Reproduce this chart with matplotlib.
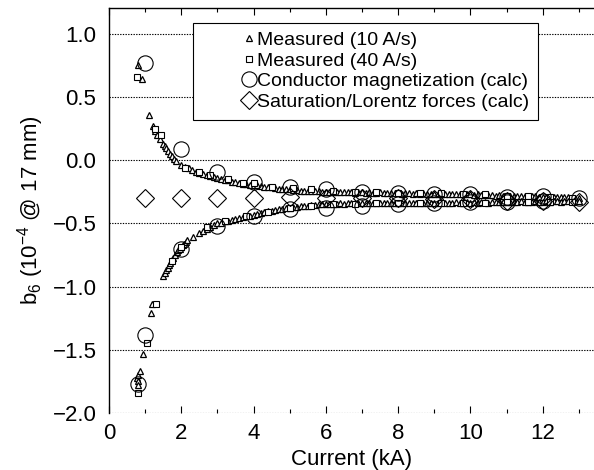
import matplotlib
matplotlib.use("Agg")
import matplotlib.pyplot as plt
from matplotlib.ticker import MultipleLocator

plt.rcParams["font.family"] = ["Liberation Sans", "DejaVu Sans"]
plt.rcParams["mathtext.default"] = "regular"

# Measured, 10 A/s ramp (triangles): upper branch
up10_x = [0.80, 0.91, 1.10, 1.22, 1.27, 1.33, 1.41, 1.50, 1.54, 1.58, 1.63, 1.69, 1.74, 1.80, 1.85,
          2.0, 2.1, 2.2, 2.3, 2.4, 2.5, 2.6, 2.7, 2.8, 2.9,
          3.0, 3.1, 3.2, 3.3, 3.4, 3.5, 3.6, 3.7, 3.8, 3.9,
          4.0, 4.1, 4.2, 4.3, 4.4, 4.5, 4.6, 4.7, 4.8, 4.9,
          5.0, 5.1, 5.2, 5.3, 5.4, 5.5, 5.6, 5.7, 5.8, 5.9,
          6.0, 6.1, 6.2, 6.3, 6.4, 6.5, 6.6, 6.7, 6.8, 6.9,
          7.0, 7.1, 7.2, 7.3, 7.4, 7.5, 7.6, 7.7, 7.8, 7.9,
          8.0, 8.1, 8.2, 8.3, 8.4, 8.5, 8.6, 8.7, 8.8, 8.9,
          9.0, 9.1, 9.2, 9.3, 9.4, 9.5, 9.6, 9.7, 9.8, 9.9,
          10.0, 10.1, 10.2, 10.3, 10.4, 10.5, 10.6, 10.7, 10.8, 10.9,
          11.0, 11.1, 11.2, 11.3, 11.4, 11.5, 11.6, 11.7, 11.8, 11.9,
          12.0, 12.1, 12.2, 12.3, 12.4, 12.5, 12.6, 12.7, 12.8, 12.9, 13.0]
up10_y = [0.75, 0.64, 0.36, 0.27, 0.23, 0.20, 0.17, 0.13, 0.115, 0.10, 0.07, 0.05, 0.03, 0.01, -0.01,
          -0.040, -0.055, -0.065, -0.080, -0.090, -0.100, -0.110, -0.115, -0.125, -0.135,
          -0.140, -0.150, -0.155, -0.160, -0.170, -0.175, -0.180, -0.185, -0.190, -0.195,
          -0.200, -0.200, -0.205, -0.210, -0.215, -0.215, -0.220, -0.225, -0.225, -0.230,
          -0.230, -0.235, -0.235, -0.240, -0.240, -0.240, -0.245, -0.245, -0.245, -0.250,
          -0.250, -0.250, -0.250, -0.255, -0.250, -0.255, -0.255, -0.255, -0.260, -0.255,
          -0.255, -0.260, -0.255, -0.260, -0.260, -0.255, -0.260, -0.260, -0.260, -0.260,
          -0.260, -0.265, -0.260, -0.260, -0.265, -0.260, -0.265, -0.260, -0.265, -0.265,
          -0.265, -0.265, -0.265, -0.270, -0.265, -0.270, -0.270, -0.270, -0.270, -0.270,
          -0.270, -0.275, -0.270, -0.275, -0.275, -0.275, -0.275, -0.280, -0.275, -0.280,
          -0.280, -0.280, -0.280, -0.285, -0.280, -0.285, -0.285, -0.285, -0.285, -0.290,
          -0.290, -0.290, -0.290, -0.295, -0.290, -0.295, -0.295, -0.295, -0.300, -0.300, -0.300]

# Measured, 10 A/s ramp (triangles): lower branch
lo10_x = [0.78, 0.79, 0.80, 0.81, 0.86, 0.93, 1.15, 1.18, 1.50, 1.54, 1.58, 1.62, 1.66, 1.70,
          1.74, 1.78, 1.83, 1.87, 1.91, 1.96, 2.00, 2.04, 2.08, 2.12, 2.16, 2.33,
          2.5, 2.6, 2.7, 2.8, 2.9,
          3.0, 3.1, 3.2, 3.3, 3.4, 3.5, 3.6, 3.7, 3.8, 3.9,
          4.0, 4.1, 4.2, 4.3, 4.4, 4.5, 4.6, 4.7, 4.8, 4.9,
          5.0, 5.1, 5.2, 5.3, 5.4, 5.5, 5.6, 5.7, 5.8, 5.9,
          6.0, 6.1, 6.2, 6.3, 6.4, 6.5, 6.6, 6.7, 6.8, 6.9,
          7.0, 7.1, 7.2, 7.3, 7.4, 7.5, 7.6, 7.7, 7.8, 7.9,
          8.0, 8.1, 8.2, 8.3, 8.4, 8.5, 8.6, 8.7, 8.8, 8.9,
          9.0, 9.1, 9.2, 9.3, 9.4, 9.5, 9.6, 9.7, 9.8, 9.9,
          10.0, 10.1, 10.2, 10.3, 10.4, 10.5, 10.6, 10.7, 10.8, 10.9,
          11.0, 11.1, 11.2, 11.3, 11.4, 11.5, 11.6, 11.7, 11.8, 11.9,
          12.0, 12.1, 12.2, 12.3, 12.4, 12.5, 12.6, 12.7, 12.8, 12.9, 13.0]
lo10_y = [-1.72, -1.75, -1.70, -1.78, -1.67, -1.535, -1.21, -1.135, -0.915, -0.89, -0.87,
          -0.85, -0.83, -0.81, -0.79, -0.77, -0.75, -0.73, -0.71, -0.70, -0.69, -0.67, -0.66,
          -0.65, -0.63, -0.61,
          -0.580, -0.560, -0.545, -0.530, -0.515,
          -0.500, -0.495, -0.485, -0.480, -0.470, -0.465, -0.455, -0.450, -0.445, -0.440,
          -0.430, -0.425, -0.420, -0.410, -0.405, -0.400, -0.395, -0.390, -0.385, -0.380,
          -0.375, -0.370, -0.370, -0.365, -0.360, -0.360, -0.355, -0.355, -0.350, -0.350,
          -0.350, -0.345, -0.345, -0.345, -0.340, -0.345, -0.340, -0.340, -0.340, -0.340,
          -0.340, -0.340, -0.335, -0.340, -0.335, -0.340, -0.335, -0.335, -0.335, -0.335,
          -0.335, -0.335, -0.335, -0.340, -0.335, -0.335, -0.335, -0.335, -0.335, -0.335,
          -0.335, -0.335, -0.330, -0.335, -0.335, -0.335, -0.330, -0.335, -0.335, -0.330,
          -0.335, -0.330, -0.335, -0.330, -0.330, -0.335, -0.330, -0.330, -0.330, -0.330,
          -0.330, -0.330, -0.330, -0.330, -0.325, -0.330, -0.330, -0.330, -0.325, -0.330,
          -0.330, -0.325, -0.330, -0.325, -0.325, -0.330, -0.325, -0.325, -0.325, -0.325, -0.325]

# Measured, 40 A/s ramp (squares)
m40_x = [0.77, 1.28, 1.44, 2.10, 2.50, 2.80, 3.30, 3.70, 4.00, 4.50, 5.10, 5.60, 6.20, 6.80,
         7.40, 8.00, 8.60, 9.20, 9.80, 10.40, 11.00, 11.60, 12.20, 12.80,
         0.80, 1.05, 1.30, 1.75, 2.00, 2.70, 3.20, 3.80, 4.40, 5.00, 5.60, 6.20, 6.80, 7.40,
         8.00, 8.60, 9.20, 9.80, 10.40, 11.00, 11.60, 12.20, 12.80]
m40_y = [0.66, 0.25, 0.20, -0.06, -0.09, -0.12, -0.15, -0.18, -0.18, -0.21, -0.22, -0.23,
         -0.24, -0.25, -0.25, -0.26, -0.26, -0.26, -0.27, -0.27, -0.28, -0.28, -0.29, -0.30,
         -1.84, -1.45, -1.135, -0.80, -0.69, -0.53, -0.48, -0.44, -0.41, -0.38, -0.36, -0.35,
         -0.345, -0.34, -0.335, -0.335, -0.335, -0.335, -0.335, -0.33, -0.33, -0.33, -0.33]

# Conductor magnetization (calc), circles
mag_x = [1, 2, 3, 4, 5, 6, 7, 8, 9, 10, 11, 12, 13,
         0.8, 1, 2, 3, 4, 5, 6, 7, 8, 9, 10, 11, 12]
mag_y = [0.77, 0.09, -0.09, -0.17, -0.21, -0.225, -0.255, -0.26, -0.27, -0.27, -0.29, -0.28, -0.30,
         -1.77, -1.38, -0.70, -0.52, -0.44, -0.39, -0.375, -0.36, -0.35, -0.335, -0.33, -0.33, -0.32]

# Saturation/Lorentz forces (calc), diamonds
sat_x = [1, 2, 3, 4, 5, 6, 7, 8, 9, 10, 11, 12, 13]
sat_y = [-0.30, -0.30, -0.30, -0.30, -0.295, -0.30, -0.30, -0.30, -0.31, -0.31, -0.32, -0.32, -0.33]

fig = plt.figure(figsize=(5.94, 4.70), dpi=100)
ax = fig.add_axes([0.1835, 0.1213, 0.8165, 0.862])

ax.plot(up10_x + lo10_x, up10_y + lo10_y, ls="none", marker="^", ms=4.5, mfc="white",
        mec="black", mew=0.9, label="Measured (10 A/s)")
ax.plot(m40_x, m40_y, ls="none", marker="s", ms=3.8, mfc="white", mec="black", mew=0.8,
        label="Measured (40 A/s)")
ax.plot(mag_x, mag_y, ls="none", marker="o", ms=11, mfc="none", mec="black", mew=0.8,
        label="Conductor magnetization (calc)")
ax.plot(sat_x, sat_y, ls="none", marker="D", ms=9.5, mfc="none", mec="black", mew=0.8,
        label="Saturation/Lorentz forces (calc)")

ax.set_xlim(0, 13.42)
ax.set_ylim(-2.0, 1.205)
ax.xaxis.set_major_locator(MultipleLocator(2))
ax.xaxis.set_minor_locator(MultipleLocator(1))
ax.yaxis.set_major_locator(MultipleLocator(0.5))
ax.yaxis.grid(True, ls=(0, (1.2, 1.2)), color="black", lw=0.8)
ax.set_axisbelow(True)

for s in ("right", "bottom"):
    ax.spines[s].set_visible(False)
ax.spines["left"].set_linewidth(1.0)
ax.spines["top"].set_linewidth(1.0)

ax.tick_params(axis="x", which="both", direction="in", top=True, bottom=True, labelsize=16)
ax.tick_params(axis="x", which="major", length=5, width=0.8, pad=7)
ax.tick_params(axis="x", which="minor", length=3, width=0.8)
ax.tick_params(axis="y", which="both", length=0, labelsize=16, pad=9)

ax.set_xlabel("Current (kA)", fontsize=16, labelpad=4)
ax.set_ylabel("b$_6$ (10$^{-4}$ @ 17 mm)", fontsize=16, labelpad=5)

leg = ax.legend(loc="upper right", bbox_to_anchor=(0.8845, 0.963), borderaxespad=0,
                fontsize=14, frameon=True, fancybox=False, edgecolor="black",
                handlelength=4.84, handletextpad=-2.0, labelspacing=0.15, borderpad=0.45,
                numpoints=1)
leg.get_frame().set_linewidth(0.8)
leg.get_frame().set_alpha(1)

fig.savefig("out.png", dpi=100)
